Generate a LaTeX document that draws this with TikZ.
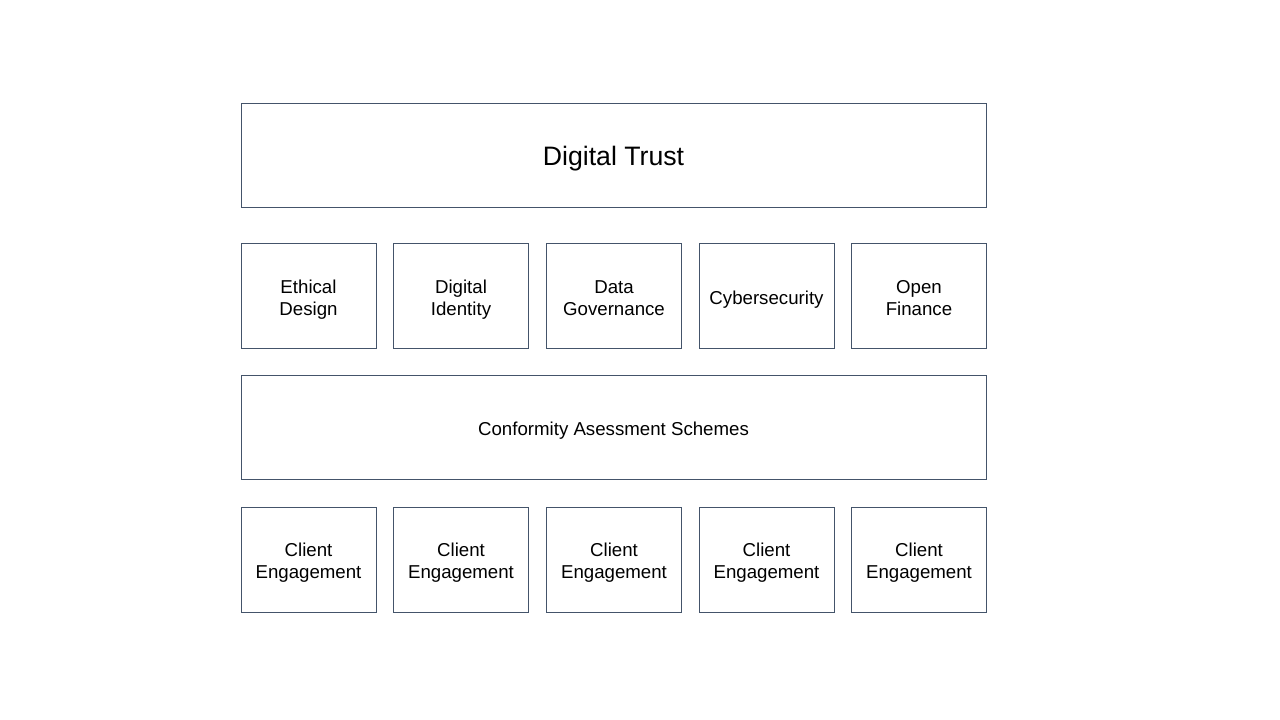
\documentclass[tikz,border=0pt]{standalone}
\usepackage{fontspec}
\setmainfont{Liberation Sans}
\definecolor{edge}{HTML}{44546A}
\newcommand{\boxtext}[1]{\raisebox{-3pt}[\height][\depth]{\begin{tabular}{@{}c@{}}#1\end{tabular}}}
\tikzset{
  box/.style={draw=edge, line width=0.75pt, fill=white, inner sep=0pt, align=center, font=\fontsize{14}{16.5}\selectfont},
}
\begin{document}
\begin{tikzpicture}[x=0.75pt,y=-0.75pt]
\useasboundingbox (0,0) rectangle (1280,720);
\node[box, minimum width=745*0.75pt, minimum height=104*0.75pt, font=\fontsize{20}{24}\selectfont] (trust) at (613.5,155.5) {\boxtext{Digital Trust}};
\foreach \n/\x/\t in {ed/308.5/{Ethical\\Design}, di/461/{Digital\\Identity}, dg/614/{Data\\Governance}, cy/766.5/{Cybersecurity}, of/919/{Open\\Finance}}{
  \node[box, minimum width=135*0.75pt, minimum height=105*0.75pt] (\n) at (\x,296) {\boxtext{\t}};
}
\node[box, minimum width=745*0.75pt, minimum height=104*0.75pt] (cas) at (613.5,427) {\boxtext{Conformity Asessment Schemes}};
\foreach \n/\x in {c1/308.5, c2/461, c3/614, c4/766.5, c5/919}{
  \node[box, minimum width=135*0.75pt, minimum height=105*0.75pt] (\n) at (\x,559.5) {\boxtext{Client\\Engagement}};
}
\end{tikzpicture}
\end{document}
